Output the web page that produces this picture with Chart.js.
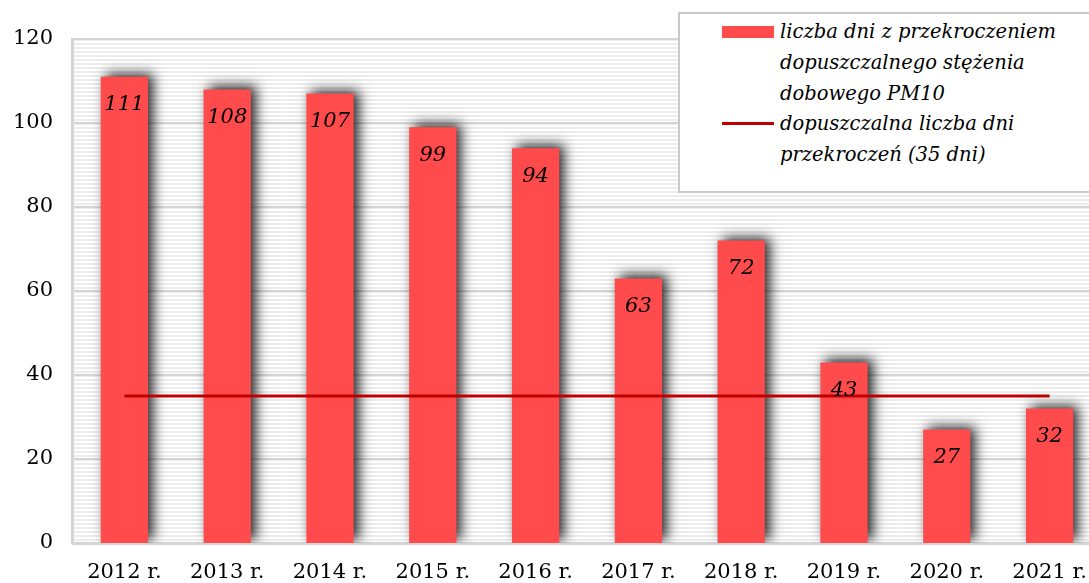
<!DOCTYPE html>
<html>
<head>
<meta charset="utf-8">
<script src="https://cdn.jsdelivr.net/npm/chart.js@4"></script>
<style>
  html, body { margin: 0; padding: 0; background: #fff; overflow: hidden; }
  #wrap { position: relative; width: 1101px; height: 583px; }
  #legendBox {
    position: absolute; left: 678px; top: 12px; width: 420px; height: 181px;
    border: 2px solid #c8c8c8; background: #fff; box-sizing: border-box;
    font-family: "DejaVu Serif", serif; font-style: italic; font-size: 19.5px; color: #000;
  }
  .item { position: absolute; left: 42px; }
  .item .sw { position: absolute; left: 0; width: 52px; }
  .item .txt { position: absolute; left: 58px; width: 330px; line-height: 31px; white-space: nowrap; }
</style>
</head>
<body>
<div id="wrap">
  <canvas id="chart" width="1101" height="583"></canvas>
  <div id="legendBox">
    <div class="item" style="top:2px">
      <div class="sw" style="top:10px;height:12px;background:#ff4b4b"></div>
      <div class="txt">liczba dni z przekroczeniem<br>dopuszczalnego stężenia<br>dobowego PM10</div>
    </div>
    <div class="item" style="top:94px">
      <div class="sw" style="top:14px;height:3px;background:#c00000"></div>
      <div class="txt">dopuszczalna liczba dni<br>przekroczeń (35 dni)</div>
    </div>
  </div>
</div>
<script>
// ============================== Dane ==============================
const years = ["2012 r.", "2013 r.", "2014 r.", "2015 r.", "2016 r.", "2017 r.", "2018 r.", "2019 r.", "2020 r.", "2021 r."];
const exceedDays = [111, 108, 107, 99, 94, 63, 72, 43, 27, 32];
const allowedDays = [35, 35, 35, 35, 35, 35, 35, 35, 35, 35];
const yTicks = [0, 20, 40, 60, 80, 100, 120];

// ============================== Pluginy ==============================
// striped background of the plot area
const stripes = {
  id: 'stripes',
  beforeDatasetsDraw(chart) {
    const { ctx, chartArea: a } = chart;
    ctx.save();
    ctx.fillStyle = '#ececec';
    for (let y = a.top; y < a.bottom; y += 4) {
      ctx.fillRect(a.left, y, a.right - a.left, 2);
    }
    // grid lines on top of stripes
    const ys = chart.scales.y;
    ctx.fillStyle = '#d4d4d4';
    yTicks.forEach(v => {
      const py = ys.getPixelForValue(v);
      ctx.fillRect(a.left, Math.round(py) - 1, a.right - a.left, 2);
    });
    ctx.fillRect(a.left - 2, a.top - 1, 3, a.bottom - a.top + 2);
    ctx.restore();
  }
};

// shadow behind bars
const barShadow = {
  id: 'barShadow',
  beforeDatasetDraw(chart, args) {
    if (args.index !== 0) return;
    const ctx = chart.ctx;
    ctx.save();
    ctx.shadowColor = 'rgba(0,0,0,0.85)';
    ctx.shadowBlur = 12;
    ctx.shadowOffsetX = 5;
    ctx.shadowOffsetY = -3;
  },
  afterDatasetDraw(chart, args) {
    if (args.index !== 0) return;
    chart.ctx.restore();
  }
};

// value labels inside bars
const barLabels = {
  id: 'barLabels',
  afterDatasetsDraw(chart) {
    const { ctx } = chart;
    const meta = chart.getDatasetMeta(0);
    ctx.save();
    ctx.font = 'italic 21px "DejaVu Serif", serif';
    ctx.fillStyle = '#000';
    ctx.textAlign = 'center';
    ctx.textBaseline = 'middle';
    meta.data.forEach((bar, i) => {
      ctx.fillText(String(exceedDays[i]), bar.x, bar.y + 28);
    });
    ctx.restore();
  }
};

// ============================== Wykres ==============================
new Chart(document.getElementById('chart').getContext('2d'), {
  data: {
    labels: years,
    datasets: [
      { type: 'bar', label: 'liczba dni z przekroczeniem dopuszczalnego stężenia dobowego PM10',
        data: exceedDays, backgroundColor: '#ff4b4b', borderWidth: 0,
        categoryPercentage: 1, barPercentage: 0.46, order: 2 },
      { type: 'line', label: 'dopuszczalna liczba dni przekroczeń (35 dni)',
        data: allowedDays, borderColor: '#c00000', borderWidth: 3,
        pointRadius: 0, fill: false, order: 1 }
    ]
  },
  options: {
    responsive: false,
    animation: false,
    layout: { padding: { top: 39, right: 0, bottom: 0, left: 0 } },
    plugins: { legend: { display: false }, tooltip: { enabled: false } },
    scales: {
      x: {
        grid: { display: false },
        border: { display: true, color: '#d4d4d4', width: 3 },
        ticks: { color: '#000', font: { family: '"DejaVu Serif", serif', size: 21 }, padding: 9 },
        afterFit(s) { s.height = 40; }
      },
      y: {
        min: 0, max: 120,
        grid: { display: false },
        border: { display: false },
        afterBuildTicks(s) { s.ticks = yTicks.map(v => ({ value: v })); },
        ticks: { color: '#000', font: { family: '"DejaVu Serif", serif', size: 21 }, padding: 12 },
        afterFit(s) { s.width = 73; }
      }
    }
  },
  plugins: [stripes, barShadow, barLabels]
});
</script>
</body>
</html>
